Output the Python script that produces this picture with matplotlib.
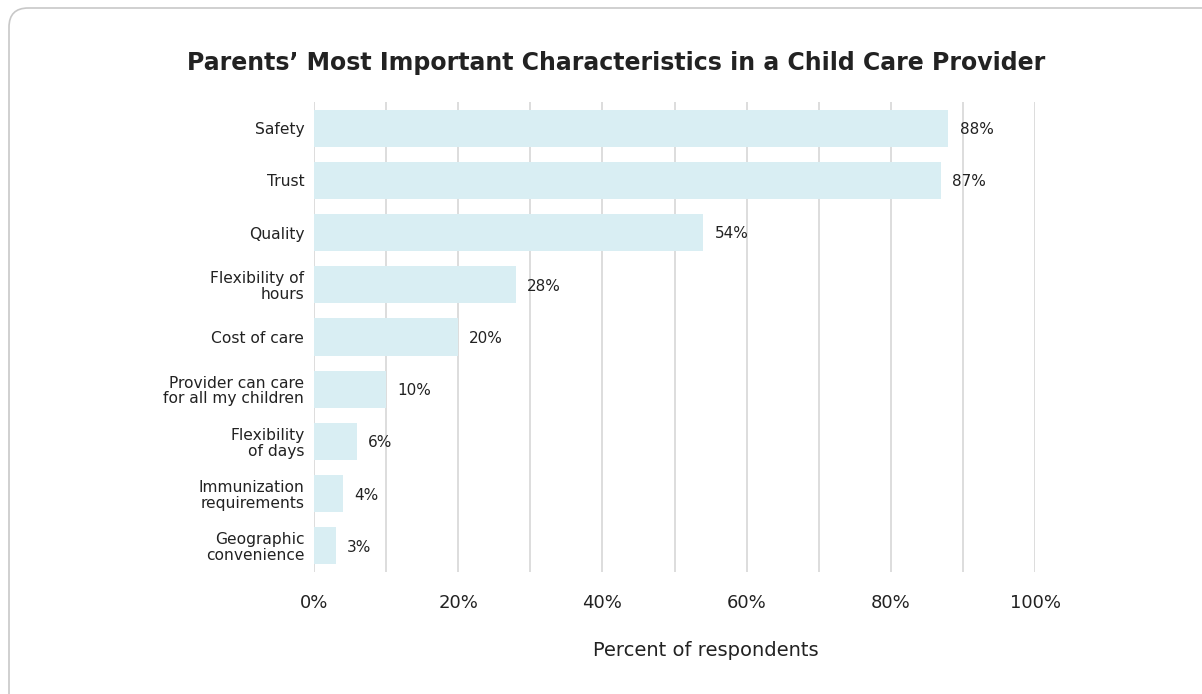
import matplotlib.pyplot as plt
from matplotlib.patches import FancyBboxPatch

# data
categories = ["Safety", "Trust", "Quality", "Flexibility of\nhours", "Cost of care",
              "Provider can care\nfor all my children", "Flexibility\nof days",
              "Immunization\nrequirements", "Geographic\nconvenience"]
values = [88, 87, 54, 28, 20, 10, 6, 4, 3]
xticks = [0, 20, 40, 60, 80, 100]
xtick_labels = ["0%", "20%", "40%", "60%", "80%", "100%"]

plt.rcParams['font.family'] = ['DejaVu Sans']
text_col = "#222222"

W, H = 1202, 694
fig = plt.figure(figsize=(W / 100, H / 100), dpi=100)

# rounded frame around the card (runs off the right and bottom edge)
frame = FancyBboxPatch((9 / W, -0.2), 1.2, 1.2 - 8 / H,
                       boxstyle="round,pad=0,rounding_size=0.016",
                       transform=fig.transFigure, fill=False, edgecolor="#c8c8c8", linewidth=1.2,
                       mutation_aspect=W / H)
fig.patches.append(frame)

ax = fig.add_axes([314 / W, (H - 572) / H, (1035 - 314) / W, 470 / H])
ypos = list(range(len(categories)))
ax.barh(ypos, values, height=0.71, color="#d9eef3", zorder=2)
ax.set_xlim(0, 100)
ax.set_ylim(len(categories) - 0.5, -0.5)

for x in range(0, 101, 10):
    ax.axvline(x, color="#dadada", linewidth=1.3, zorder=1)

for y, v in zip(ypos, values):
    ax.annotate(f"{v}%", (v, y), xytext=(8, -1), textcoords="offset points",
                ha="left", va="center", fontsize=11, color=text_col)

ax.set_yticks(ypos)
ax.set_yticklabels(categories, fontsize=11.2, color=text_col, linespacing=1.05)
ax.set_xticks(xticks)
ax.set_xticklabels(xtick_labels, fontsize=13, color=text_col)
ax.tick_params(axis="y", length=0, pad=7)
ax.tick_params(axis="x", length=0, pad=16)
for s in ax.spines.values():
    s.set_visible(False)

fig.text(616 / W, 1 - 63 / H, "Parents\u2019 Most Important Characteristics in a Child Care Provider",
         ha="center", va="center", fontsize=17, fontweight="bold", color=text_col)
fig.text(706 / W, 1 - 651 / H, "Percent of respondents", ha="center", va="center",
         fontsize=14, color=text_col)

fig.savefig("out.png", dpi=100)
